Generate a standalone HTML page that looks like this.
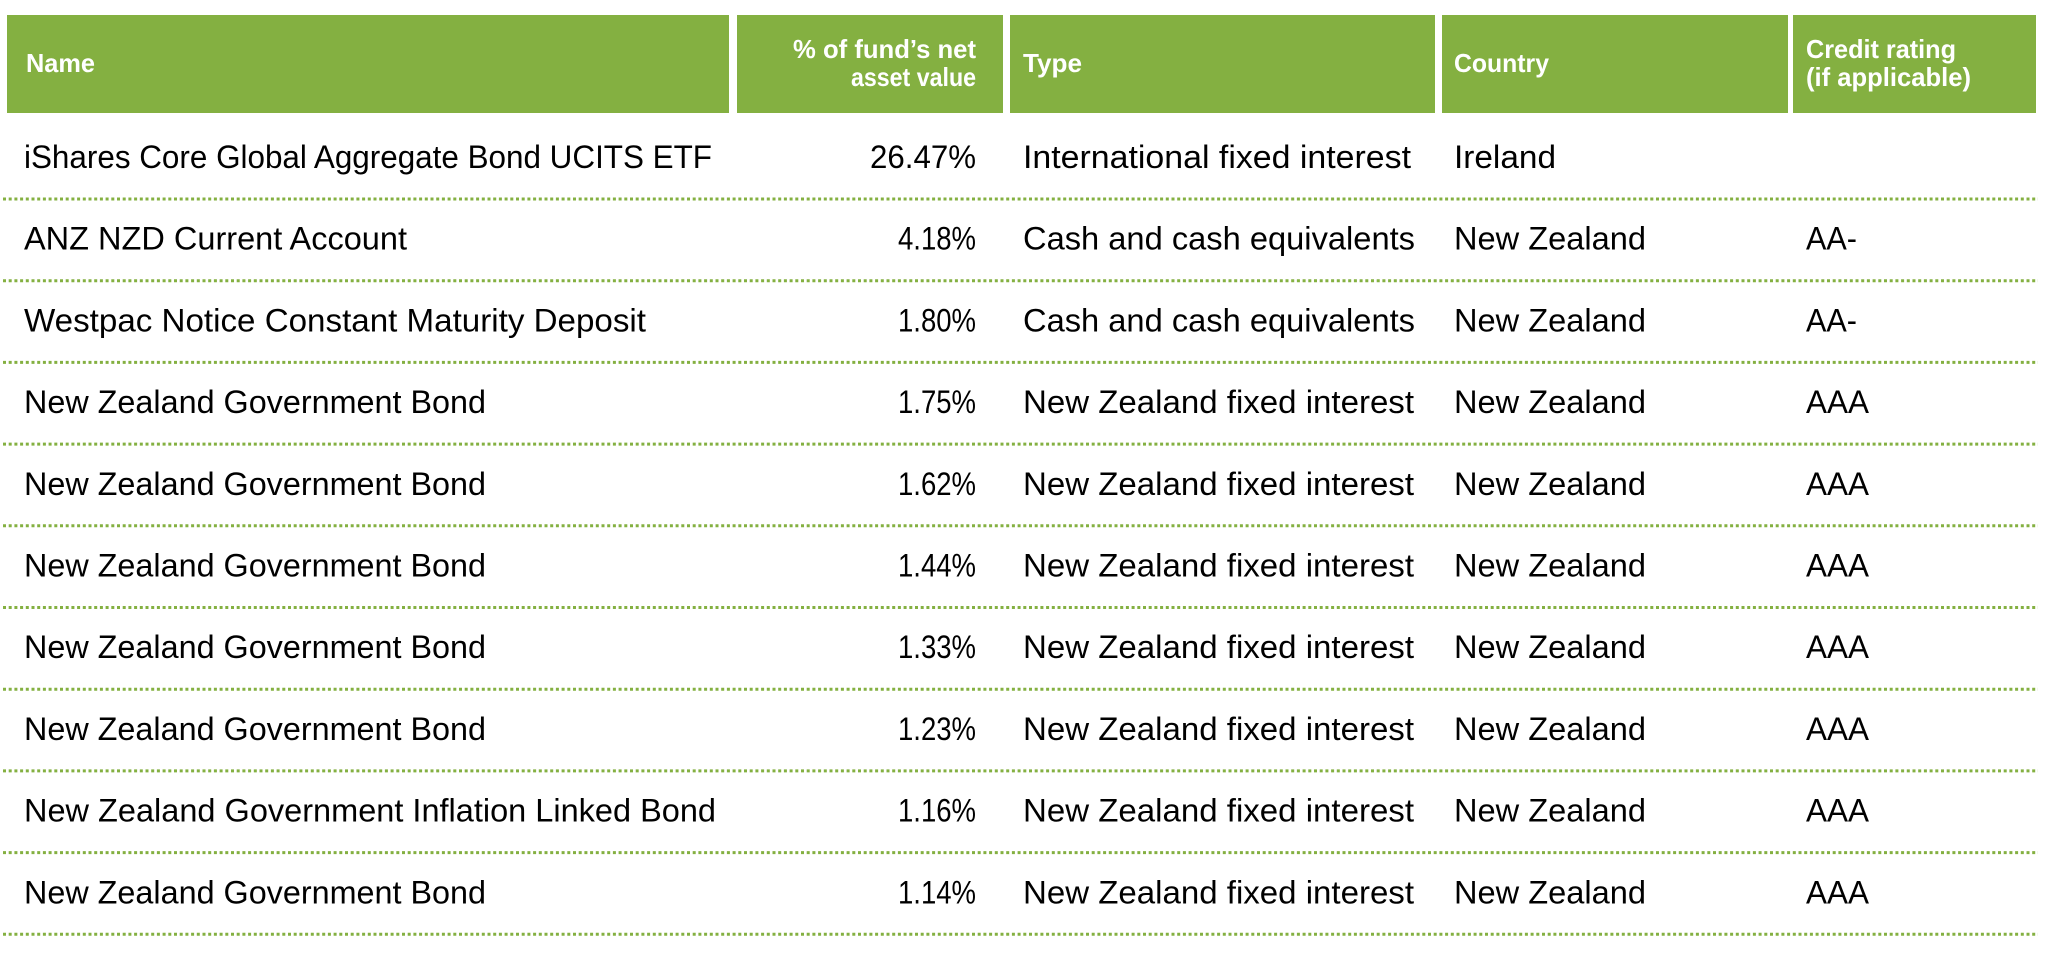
<!DOCTYPE html>
<html><head><meta charset="utf-8"><style>
html,body{margin:0;padding:0;background:#fff;}
svg{display:block;}
.h{font-family:"Liberation Sans Narrow","Liberation Sans",sans-serif;font-weight:bold;font-size:26px;fill:#fff;}
.b{font-family:"Liberation Sans",sans-serif;font-size:32px;fill:#000;}
</style></head><body>
<svg width="2048" height="954" viewBox="0 0 2048 954" xmlns="http://www.w3.org/2000/svg">
<g fill="#84b041">
<rect x="7" y="15" width="722" height="98"/>
<rect x="737" y="15" width="266" height="98"/>
<rect x="1010" y="15" width="425" height="98"/>
<rect x="1442" y="15" width="346" height="98"/>
<rect x="1793" y="15" width="243" height="98"/>
</g>
<text class="h" x="26" y="72" textLength="69" lengthAdjust="spacingAndGlyphs">Name</text>
<text class="h" x="976" y="58" text-anchor="end" textLength="183" lengthAdjust="spacingAndGlyphs">% of fund’s net</text>
<text class="h" x="976" y="86" text-anchor="end" textLength="125" lengthAdjust="spacingAndGlyphs">asset value</text>
<text class="h" x="1023" y="72" textLength="59" lengthAdjust="spacingAndGlyphs">Type</text>
<text class="h" x="1454" y="72" textLength="95" lengthAdjust="spacingAndGlyphs">Country</text>
<text class="h" x="1806" y="58" textLength="150" lengthAdjust="spacingAndGlyphs">Credit  rating</text>
<text class="h" x="1806" y="86" textLength="165" lengthAdjust="spacingAndGlyphs">(if applicable)</text>
<g stroke="#84b041" stroke-width="3" stroke-dasharray="3 2.7">
<line x1="3" x2="2038" y1="199" y2="199"/>
<line x1="3" x2="2038" y1="280.7" y2="280.7"/>
<line x1="3" x2="2038" y1="362.4" y2="362.4"/>
<line x1="3" x2="2038" y1="444.1" y2="444.1"/>
<line x1="3" x2="2038" y1="525.8" y2="525.8"/>
<line x1="3" x2="2038" y1="607.5" y2="607.5"/>
<line x1="3" x2="2038" y1="689.2" y2="689.2"/>
<line x1="3" x2="2038" y1="770.9" y2="770.9"/>
<line x1="3" x2="2038" y1="852.6" y2="852.6"/>
<line x1="3" x2="2038" y1="934.3" y2="934.3"/>
</g>
<g class="b">
<text x="24" y="168" textLength="688" lengthAdjust="spacingAndGlyphs">iShares Core Global Aggregate Bond UCITS ETF</text>
<text x="976" y="168" text-anchor="end" textLength="106" lengthAdjust="spacingAndGlyphs">26.47%</text>
<text x="1023" y="168" textLength="388" lengthAdjust="spacingAndGlyphs">International fixed interest</text>
<text x="1454" y="168" textLength="102" lengthAdjust="spacingAndGlyphs">Ireland</text>

<text x="24" y="249.7" textLength="383" lengthAdjust="spacingAndGlyphs">ANZ NZD Current Account</text>
<text x="976" y="249.7" text-anchor="end" textLength="78" lengthAdjust="spacingAndGlyphs">4.18%</text>
<text x="1023" y="249.7" textLength="392" lengthAdjust="spacingAndGlyphs">Cash and cash equivalents</text>
<text x="1454" y="249.7" textLength="192" lengthAdjust="spacingAndGlyphs">New Zealand</text>
<text x="1806" y="249.7" textLength="51" lengthAdjust="spacingAndGlyphs">AA-</text>

<text x="24" y="331.4" textLength="622" lengthAdjust="spacingAndGlyphs">Westpac Notice Constant Maturity Deposit</text>
<text x="976" y="331.4" text-anchor="end" textLength="78" lengthAdjust="spacingAndGlyphs">1.80%</text>
<text x="1023" y="331.4" textLength="392" lengthAdjust="spacingAndGlyphs">Cash and cash equivalents</text>
<text x="1454" y="331.4" textLength="192" lengthAdjust="spacingAndGlyphs">New Zealand</text>
<text x="1806" y="331.4" textLength="51" lengthAdjust="spacingAndGlyphs">AA-</text>

<text x="24" y="413.1" textLength="462" lengthAdjust="spacingAndGlyphs">New Zealand Government Bond</text>
<text x="976" y="413.1" text-anchor="end" textLength="78" lengthAdjust="spacingAndGlyphs">1.75%</text>
<text x="1023" y="413.1" textLength="391" lengthAdjust="spacingAndGlyphs">New Zealand fixed interest</text>
<text x="1454" y="413.1" textLength="192" lengthAdjust="spacingAndGlyphs">New Zealand</text>
<text x="1806" y="413.1" textLength="63" lengthAdjust="spacingAndGlyphs">AAA</text>

<text x="24" y="494.8" textLength="462" lengthAdjust="spacingAndGlyphs">New Zealand Government Bond</text>
<text x="976" y="494.8" text-anchor="end" textLength="78" lengthAdjust="spacingAndGlyphs">1.62%</text>
<text x="1023" y="494.8" textLength="391" lengthAdjust="spacingAndGlyphs">New Zealand fixed interest</text>
<text x="1454" y="494.8" textLength="192" lengthAdjust="spacingAndGlyphs">New Zealand</text>
<text x="1806" y="494.8" textLength="63" lengthAdjust="spacingAndGlyphs">AAA</text>

<text x="24" y="576.5" textLength="462" lengthAdjust="spacingAndGlyphs">New Zealand Government Bond</text>
<text x="976" y="576.5" text-anchor="end" textLength="78" lengthAdjust="spacingAndGlyphs">1.44%</text>
<text x="1023" y="576.5" textLength="391" lengthAdjust="spacingAndGlyphs">New Zealand fixed interest</text>
<text x="1454" y="576.5" textLength="192" lengthAdjust="spacingAndGlyphs">New Zealand</text>
<text x="1806" y="576.5" textLength="63" lengthAdjust="spacingAndGlyphs">AAA</text>

<text x="24" y="658.2" textLength="462" lengthAdjust="spacingAndGlyphs">New Zealand Government Bond</text>
<text x="976" y="658.2" text-anchor="end" textLength="78" lengthAdjust="spacingAndGlyphs">1.33%</text>
<text x="1023" y="658.2" textLength="391" lengthAdjust="spacingAndGlyphs">New Zealand fixed interest</text>
<text x="1454" y="658.2" textLength="192" lengthAdjust="spacingAndGlyphs">New Zealand</text>
<text x="1806" y="658.2" textLength="63" lengthAdjust="spacingAndGlyphs">AAA</text>

<text x="24" y="739.9" textLength="462" lengthAdjust="spacingAndGlyphs">New Zealand Government Bond</text>
<text x="976" y="739.9" text-anchor="end" textLength="78" lengthAdjust="spacingAndGlyphs">1.23%</text>
<text x="1023" y="739.9" textLength="391" lengthAdjust="spacingAndGlyphs">New Zealand fixed interest</text>
<text x="1454" y="739.9" textLength="192" lengthAdjust="spacingAndGlyphs">New Zealand</text>
<text x="1806" y="739.9" textLength="63" lengthAdjust="spacingAndGlyphs">AAA</text>

<text x="24" y="821.6" textLength="692" lengthAdjust="spacingAndGlyphs">New Zealand Government Inflation Linked Bond</text>
<text x="976" y="821.6" text-anchor="end" textLength="78" lengthAdjust="spacingAndGlyphs">1.16%</text>
<text x="1023" y="821.6" textLength="391" lengthAdjust="spacingAndGlyphs">New Zealand fixed interest</text>
<text x="1454" y="821.6" textLength="192" lengthAdjust="spacingAndGlyphs">New Zealand</text>
<text x="1806" y="821.6" textLength="63" lengthAdjust="spacingAndGlyphs">AAA</text>

<text x="24" y="903.3" textLength="462" lengthAdjust="spacingAndGlyphs">New Zealand Government Bond</text>
<text x="976" y="903.3" text-anchor="end" textLength="78" lengthAdjust="spacingAndGlyphs">1.14%</text>
<text x="1023" y="903.3" textLength="391" lengthAdjust="spacingAndGlyphs">New Zealand fixed interest</text>
<text x="1454" y="903.3" textLength="192" lengthAdjust="spacingAndGlyphs">New Zealand</text>
<text x="1806" y="903.3" textLength="63" lengthAdjust="spacingAndGlyphs">AAA</text>
</g>
</svg>
</body></html>
